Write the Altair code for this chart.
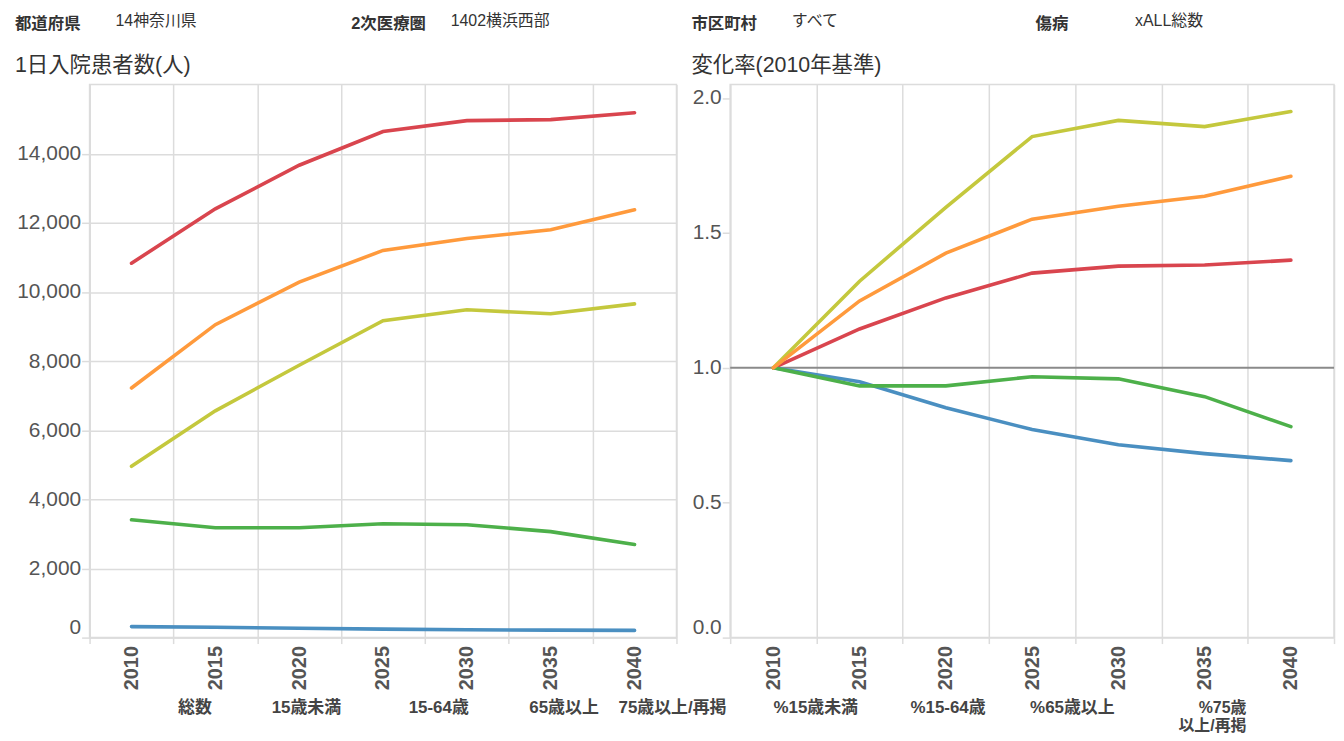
import altair as alt
import pandas as pd

FONT = "Liberation Sans, Noto Sans CJK JP"

years = ["2010", "2015", "2020", "2025", "2030", "2035", "2040"]
series = ["総数", "15歳未満", "15-64歳", "65歳以上", "75歳以上/再掲"]
colors = ["#d9454e", "#4a8fc1", "#4db04a", "#c4c83d", "#ff9a3c"]

# 1日入院患者数(人)
inpatients_total = [10830, 12405, 13665, 14640, 14955, 14985, 15185]
inpatients_u15 = [318, 301, 271, 245, 227, 217, 209]
inpatients_15_64 = [3409, 3180, 3180, 3295, 3266, 3066, 2693]
inpatients_65plus = [4956, 6560, 7880, 9168, 9483, 9368, 9655]
inpatients_75plus = [7220, 9053, 10285, 11200, 11545, 11800, 12377]

# 変化率(2010年基準)
ratio_total = [1.0, 1.144, 1.259, 1.351, 1.377, 1.381, 1.399]
ratio_u15 = [1.0, 0.948, 0.852, 0.771, 0.715, 0.682, 0.656]
ratio_15_64 = [1.0, 0.933, 0.933, 0.967, 0.959, 0.893, 0.782]
ratio_65plus = [1.0, 1.321, 1.595, 1.857, 1.917, 1.894, 1.950]
ratio_75plus = [1.0, 1.248, 1.425, 1.551, 1.599, 1.636, 1.710]

left_ticks = [0, 2000, 4000, 6000, 8000, 10000, 12000, 14000]
right_ticks = [0.0, 0.5, 1.0, 1.5, 2.0]

header_left = [("都道府県", "14神奈川県"), ("2次医療圏", "1402横浜西部")]
header_right = [("市区町村", "すべて"), ("傷病", "xALL総数")]
legend_left = ["総数", "15歳未満", "15-64歳", "65歳以上", "75歳以上/再掲"]
legend_right = ["%15歳未満", "%15-64歳", "%65歳以上", "%75歳", "以上/再掲"]


def long_df(lists):
    rows = []
    for name, vals in zip(series, lists):
        for y, v in zip(years, vals):
            rows.append({"year": y, "series": name, "value": v})
    return pd.DataFrame(rows)


left_df = long_df([inpatients_total, inpatients_u15, inpatients_15_64,
                   inpatients_65plus, inpatients_75plus])
right_df = long_df([ratio_total, ratio_u15, ratio_15_64,
                    ratio_65plus, ratio_75plus])

GRID = "#dcdcdc"
LW = 590
RW = 607
H = 556

color_enc = alt.Color("series:N", scale=alt.Scale(domain=series, range=colors), legend=None)


def x_enc():
    return alt.X(
        "year:O",
        sort=years,
        scale=alt.Scale(type="band", paddingInner=0, paddingOuter=0),
        axis=alt.Axis(
            title=None, labelAngle=-90, labelFont=FONT, labelFontSize=20,
            labelFontWeight="bold", labelColor="#555", tickBand="extent",
            grid=True, gridColor=GRID, gridWidth=1.5, tickColor=GRID,
            tickSize=6, tickWidth=1.5, labelPadding=2, domainColor=GRID,
            domainWidth=1.5,
        ),
    )


def y_axis(vals, fmt):
    return alt.Axis(
        values=vals, format=fmt, title=None, labelFont=FONT, labelFontSize=21,
        labelColor="#555", tickSize=8, tickColor=GRID, tickWidth=1.5,
        labelPadding=1, gridColor=GRID, gridWidth=1.5, labelFlush=True,
        domainColor=GRID, domainWidth=1.5,
    )


def txt(s, x, y, size=16, weight="normal", align="left", color="#333"):
    return alt.Chart(alt.Data(values=[{}])).mark_text(
        text=s, align=align, baseline="middle", fontSize=size,
        fontWeight=weight, color=color, font=FONT,
    ).encode(x=alt.value(x), y=alt.value(y))


def leg(s, x, y, align="center", size=17):
    return txt(s, x, y, size=size, weight="bold", align=align, color="#444")


left_lines = alt.Chart(left_df).mark_line(strokeWidth=3.6, strokeCap="round").encode(
    x=x_enc(),
    y=alt.Y("value:Q", scale=alt.Scale(domain=[0, 16000], nice=False, zero=False),
            axis=y_axis(left_ticks, ",d")),
    color=color_enc,
    detail="series:N",
)

right_lines = alt.Chart(right_df).mark_line(strokeWidth=3.6, strokeCap="round").encode(
    x=x_enc(),
    y=alt.Y("value:Q", scale=alt.Scale(domain=[0, 2.05], nice=False, zero=False),
            axis=y_axis(right_ticks, ".1f")),
    color=color_enc,
    detail="series:N",
)

base_rule = alt.Chart(alt.Data(values=[{}])).mark_rule(color="#8a8a8a", strokeWidth=2).encode(
    y=alt.datum(1.0)
)

ROW1 = 627
ROW2 = 645

left_texts = [
    txt(header_left[0][0], -75, -61, weight="bold", size=16.5),
    txt(header_left[0][1], 26, -64),
    txt(header_left[1][0], 263, -61, weight="bold", size=16.5),
    txt(header_left[1][1], 363, -64),
    txt("1日入院患者数(人)", -75, -19, size=21.5),
    leg(legend_left[0], 106, ROW1),
    leg(legend_left[1], 218, ROW1),
    leg(legend_left[2], 351, ROW1),
    leg(legend_left[3], 477, ROW1),
    leg(legend_left[4], 586, ROW1),
]

right_texts = [
    txt(header_right[0][0], -39, -61, weight="bold", size=16.5),
    txt(header_right[0][1], 62, -64),
    txt(header_right[1][0], 307, -61, weight="bold", size=16.5),
    txt(header_right[1][1], 407, -64),
    txt("変化率(2010年基準)", -39, -19, size=21.5),
    leg(legend_right[0], 86, ROW1),
    leg(legend_right[1], 219, ROW1),
    leg(legend_right[2], 344, ROW1),
    leg(legend_right[3], 519, ROW1, align="right", size=16),
    leg(legend_right[4], 519, ROW2, align="right", size=16),
]

left = alt.layer(left_lines, *left_texts).properties(width=LW, height=H)
right = alt.layer(base_rule, right_lines, *right_texts).properties(width=RW, height=H)

chart = alt.hconcat(left, right, spacing=54, bounds="flush").properties(
    padding={"left": 6, "top": 2, "right": 0, "bottom": 0}
).configure_view(stroke=GRID, strokeWidth=1.5)

chart.save("out.html", embed_options={"renderer": "svg", "actions": False})
